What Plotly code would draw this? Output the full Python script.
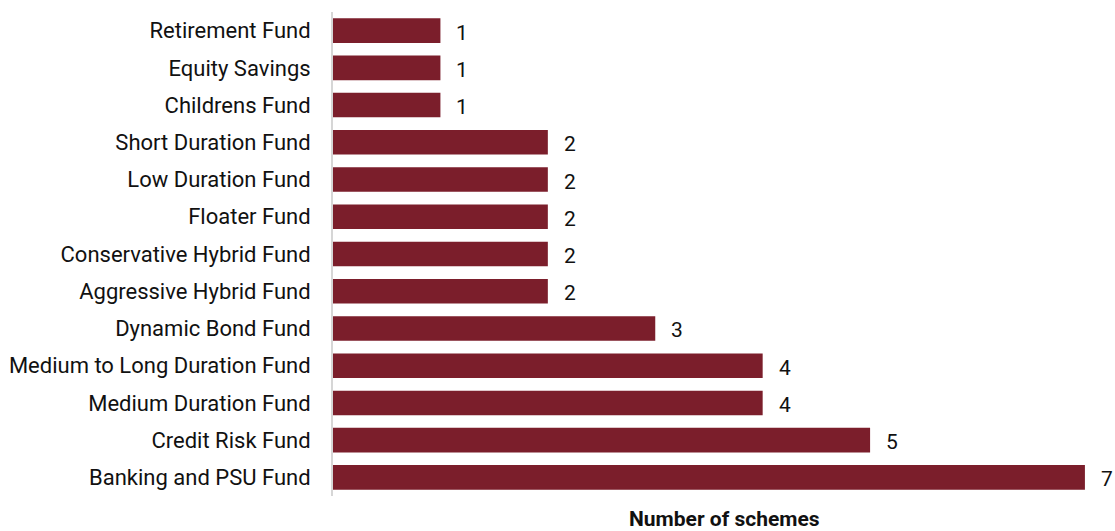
import plotly.graph_objects as go

categories = [
    "Banking and PSU Fund",
    "Credit Risk Fund",
    "Medium Duration Fund",
    "Medium to Long Duration Fund",
    "Dynamic Bond Fund",
    "Aggressive Hybrid Fund",
    "Conservative Hybrid Fund",
    "Floater Fund",
    "Low Duration Fund",
    "Short Duration Fund",
    "Childrens Fund",
    "Equity Savings",
    "Retirement Fund",
]
values = [7, 5, 4, 4, 3, 2, 2, 2, 2, 2, 1, 1, 1]

BAR_COLOR = "#7B1E2B"
FONT = "Roboto"
TEXT_COLOR = "#111111"

fig = go.Figure(
    go.Bar(
        x=values,
        y=categories,
        orientation="h",
        marker=dict(color=BAR_COLOR, line=dict(width=0)),
        hoverinfo="x+y",
    )
)

for c, v in zip(categories, values):
    fig.add_annotation(
        x=v, y=c, text=str(v), showarrow=False,
        xanchor="left", xshift=14, yshift=-2,
        font=dict(family=FONT, size=21, color=TEXT_COLOR),
    )

fig.add_annotation(
    x=0.5, y=0, xref="paper", yref="paper",
    text="<b>Number of schemes</b>", showarrow=False,
    xanchor="center", yanchor="middle", yshift=-23,
    font=dict(family=FONT, size=21, color=TEXT_COLOR),
)

fig.update_layout(
    width=1115, height=531,
    margin=dict(l=333, r=0, t=12, b=35),
    paper_bgcolor="white", plot_bgcolor="white",
    bargap=0.34,
    showlegend=False,
    font=dict(family=FONT, size=22, color=TEXT_COLOR),
    xaxis=dict(
        range=[0, 7.28], showgrid=False, zeroline=False,
        showticklabels=False, showline=False,
    ),
    yaxis=dict(
        showgrid=False, zeroline=False,
        showline=True, linecolor="#D6D6D6", linewidth=2,
        ticks="", ticklabelstandoff=16,
        tickfont=dict(family=FONT, size=22, color=TEXT_COLOR),
        categoryorder="array", categoryarray=categories,
    ),
)

fig.write_html(
    "out.html",
    config={"displayModeBar": False},
    post_script="document.body.style.margin='0';document.body.style.overflow='hidden';",
)
